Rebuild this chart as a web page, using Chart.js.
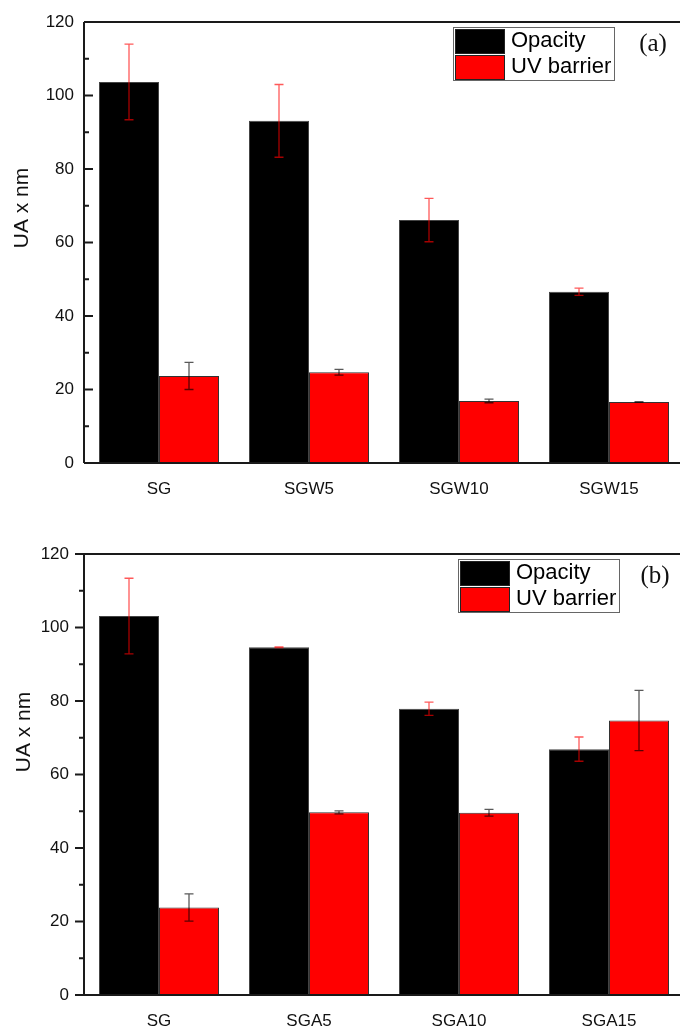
<!DOCTYPE html>
<html>
<head>
<meta charset="utf-8">
<script src="https://cdn.jsdelivr.net/npm/chart.js@4"></script>
<style>
  html, body { margin: 0; padding: 0; background: #fff; overflow: hidden; }
  canvas { display: block; }
</style>
</head>
<body>
<canvas id="chartA" width="684" height="510"></canvas>
<canvas id="chartB" width="684" height="517"></canvas>
<script>
// panel (a)
const samplesA = ["SG", "SGW5", "SGW10", "SGW15"];
const opacityA = [103.7, 93.1, 66.1, 46.6];
const opacityErrA = [10.3, 9.9, 5.9, 1.0];
const uvA = [23.7, 24.7, 16.9, 16.6];
const uvErrA = [3.7, 0.8, 0.5, 0.1];

// panel (b)
const samplesB = ["SG", "SGA5", "SGA10", "SGA15"];
const opacityB = [103.1, 94.6, 77.9, 66.9];
const opacityErrB = [10.3, 0.1, 1.8, 3.3];
const uvB = [23.8, 49.7, 49.6, 74.7];
const uvErrB = [3.7, 0.4, 0.9, 8.2];

const seriesNames = ["Opacity", "UV barrier"];
const yTicks = [0, 20, 40, 60, 80, 100, 120];
const yTitle = "UA x nm";

const FONT = "'Liberation Sans', Arial, sans-serif";

// error bars, drawn through the y scale
const errorBars = {
    id: 'errorBars',
    afterDatasetsDraw(chart) {
        const ctx = chart.ctx;
        const y = chart.scales.y;
        ctx.save();
        chart.data.datasets.forEach((ds, i) => {
            const meta = chart.getDatasetMeta(i);
            ctx.strokeStyle = ds.errorColor;
            ctx.lineWidth = 1.3;
            meta.data.forEach((bar, j) => {
                const v = ds.data[j];
                const e = ds.errors[j];
                const top = y.getPixelForValue(v + e);
                const bot = y.getPixelForValue(v - e);
                const x = bar.x;
                ctx.beginPath();
                ctx.moveTo(x, top); ctx.lineTo(x, bot);
                ctx.moveTo(x - 4.5, top); ctx.lineTo(x + 4.5, top);
                ctx.moveTo(x - 4.5, bot); ctx.lineTo(x + 4.5, bot);
                ctx.stroke();
            });
        });
        ctx.restore();
    }
};

// frame, minor/major ticks, axis title, legend box and panel letter
const frameAndLegend = {
    id: 'frameAndLegend',
    afterDraw(chart, args, opts) {
        const ctx = chart.ctx;
        const a = chart.chartArea;
        const y = chart.scales.y;
        ctx.save();
        ctx.strokeStyle = '#1a1a1a';
        ctx.lineWidth = 2;
        ctx.beginPath();
        ctx.moveTo(a.left, a.top); ctx.lineTo(chart.width, a.top);
        ctx.moveTo(a.left, a.top); ctx.lineTo(a.left, a.bottom);
        ctx.moveTo(a.left, a.bottom); ctx.lineTo(chart.width, a.bottom);
        const dir = opts.inward ? 1 : -1;
        for (let v = 0; v <= 120; v += 10) {
            const py = y.getPixelForValue(v);
            const len = v % 20 === 0 ? 9 : 5;
            ctx.moveTo(a.left, py);
            ctx.lineTo(a.left + dir * len, py);
        }
        ctx.stroke();

        // y title (sits above the axis middle, as in the original)
        ctx.save();
        ctx.translate(opts.titleX, opts.titleY);
        ctx.rotate(-Math.PI / 2);
        ctx.font = '21px ' + FONT;
        ctx.fillStyle = '#111';
        ctx.textAlign = 'center';
        ctx.textBaseline = 'middle';
        ctx.fillText(yTitle, 0, 0);
        ctx.restore();

        // legend
        const L = opts.legend;
        ctx.lineWidth = 1;
        ctx.strokeStyle = '#666';
        ctx.fillStyle = '#fff';
        ctx.fillRect(L.x, L.y, 161, 53);
        ctx.strokeRect(L.x + 0.5, L.y + 0.5, 161, 53);
        chart.data.datasets.forEach((ds, i) => {
            const sy = L.y + 2 + i * 26;
            ctx.fillStyle = ds.backgroundColor;
            ctx.fillRect(L.x + 2, sy, 49, 24);
            ctx.strokeStyle = '#222';
            ctx.strokeRect(L.x + 2.5, sy + 0.5, 49, 24);
            ctx.fillStyle = '#000';
            ctx.font = '22px ' + FONT;
            ctx.textBaseline = 'middle';
            ctx.textAlign = 'left';
            ctx.fillText(ds.label, L.x + 58, sy + 12);
        });

        ctx.font = '25px "Liberation Serif", "Times New Roman", serif';
        ctx.textAlign = 'center';
        ctx.textBaseline = 'middle';
        ctx.fillStyle = '#111';
        ctx.fillText(opts.letter, opts.letterX, opts.letterY);
        ctx.restore();
    }
};

function makeChart(id, labels, opac, opacErr, uv, uvErr, cfg) {
    return new Chart(document.getElementById(id), {
        type: 'bar',
        data: {
            labels: labels,
            datasets: [{
                label: seriesNames[0],
                data: opac,
                errors: opacErr,
                errorColor: 'rgba(255,0,0,0.65)',
                backgroundColor: '#000000',
                borderColor: '#444444',
                borderWidth: 1,
                barPercentage: 1.0,
                categoryPercentage: 0.8
            }, {
                label: seriesNames[1],
                data: uv,
                errors: uvErr,
                errorColor: 'rgba(0,0,0,0.65)',
                backgroundColor: '#ff0000',
                borderColor: '#333333',
                borderWidth: 1,
                barPercentage: 1.0,
                categoryPercentage: 0.8
            }]
        },
        options: {
            responsive: false,
            animation: false,
            layout: { padding: { top: cfg.top, left: 0, right: 0, bottom: 0 } },
            plugins: {
                legend: { display: false },
                tooltip: { enabled: false },
                frameAndLegend: {
                    inward: cfg.inward,
                    legend: cfg.legend,
                    letter: cfg.letter,
                    letterX: cfg.letterX,
                    letterY: cfg.letterY,
                    titleX: cfg.titleX,
                    titleY: cfg.titleY
                }
            },
            scales: {
                x: {
                    grid: { display: false, drawTicks: false },
                    border: { display: false },
                    ticks: { color: '#111', font: { family: FONT, size: 17 }, padding: 16 },
                    afterFit: (s) => { s.height = cfg.xHeight; }
                },
                y: {
                    min: 0,
                    max: 120,
                    afterBuildTicks: (s) => { s.ticks = yTicks.map(v => ({ value: v })); },
                    grid: { display: false, drawTicks: false },
                    border: { display: false },
                    ticks: { color: '#111', font: { family: FONT, size: 17 }, padding: cfg.tickPad },
                    afterFit: (s) => { s.width = 84; }
                }
            }
        },
        plugins: [errorBars, frameAndLegend]
    });
}

makeChart('chartA', samplesA, opacityA, opacityErrA, uvA, uvErrA, {
    top: 22, xHeight: 47, inward: true, tickPad: 10,
    legend: { x: 453, y: 27 }, letter: '(a)', letterX: 653, letterY: 44,
    titleX: 22, titleY: 208
});

makeChart('chartB', samplesB, opacityB, opacityErrB, uvB, uvErrB, {
    top: 44, xHeight: 32, inward: false, tickPad: 15,
    legend: { x: 458, y: 49 }, letter: '(b)', letterX: 655, letterY: 66,
    titleX: 24, titleY: 222
});
</script>
</body>
</html>
